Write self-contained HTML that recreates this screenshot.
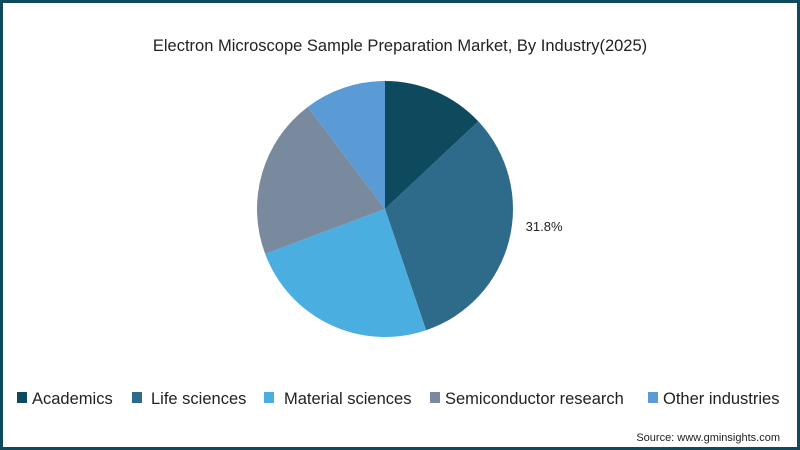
<!DOCTYPE html>
<html><head><meta charset="utf-8"><style>
body{margin:0;width:800px;height:450px;overflow:hidden;font-family:"Liberation Sans",sans-serif;}
#frame{position:absolute;left:0;top:0;width:794px;height:444px;border:3px solid #0e4a5c;background:#fff;}
</style></head><body>
<div id="frame"></div>
<svg width="800" height="450" style="position:absolute;left:0;top:0">
<text x="400" y="51" text-anchor="middle" font-size="16.5" fill="#222">Electron Microscope Sample Preparation Market, By Industry(2025)</text>
<g id="pie"></g>
<g id="legend"></g>
<text x="780" y="441" text-anchor="end" font-size="11" fill="#222">Source: www.gminsights.com</text>
</svg>
<script>
const categories=["Academics","Life sciences","Material sciences","Semiconductor research","Other industries"];
const values=[13.0,31.8,24.5,20.4,10.3];
const labels=["","31.8%","","",""];
const colors=["#0d4a5e","#2e6b8a","#4aaee0","#7a8a9e","#5b9bd5"];
const NS="http://www.w3.org/2000/svg";
const cx=385,cy=209,r=128;
const pie=document.getElementById('pie');
const total=values.reduce((a,b)=>a+b,0);
let acc=0;
function pt(a,rr){return [cx+rr*Math.sin(a),cy-rr*Math.cos(a)];}
values.forEach((v,i)=>{
 const a0=acc/total*2*Math.PI; acc+=v; const a1=acc/total*2*Math.PI;
 const p0=pt(a0,r),p1=pt(a1,r);
 const p=document.createElementNS(NS,'path');
 p.setAttribute('d',`M${cx},${cy}L${p0[0]},${p0[1]}A${r},${r} 0 ${a1-a0>Math.PI?1:0} 1 ${p1[0]},${p1[1]}Z`);
 p.setAttribute('fill',colors[i]);
 
 
 pie.appendChild(p);
 if(labels[i]){
  const m=(a0+a1)/2,lp=pt(m,r+36);
  const t=document.createElementNS(NS,'text');
  t.setAttribute('x',lp[0]);t.setAttribute('y',lp[1]-18);t.setAttribute('text-anchor','middle');
  t.setAttribute('font-size','13');t.setAttribute('fill','#222');t.textContent=labels[i];
  
  
  pie.appendChild(t);
 }
});
const lg=document.getElementById('legend');
const lx=[17,132,264,430,648];
const tx=[32,151,284,445,663];
categories.forEach((c,i)=>{
 const g=document.createElementNS(NS,'g');
 
 
 const s=document.createElementNS(NS,'rect');
 s.setAttribute('x',lx[i]);s.setAttribute('y',392);s.setAttribute('width',10);s.setAttribute('height',11);s.setAttribute('fill',colors[i]);
 const t=document.createElementNS(NS,'text');
 t.setAttribute('x',tx[i]);t.setAttribute('y',404);t.setAttribute('font-size','16.5');t.setAttribute('fill','#222');t.textContent=c;
 g.appendChild(s);g.appendChild(t);lg.appendChild(g);
});
</script>
</body></html>
